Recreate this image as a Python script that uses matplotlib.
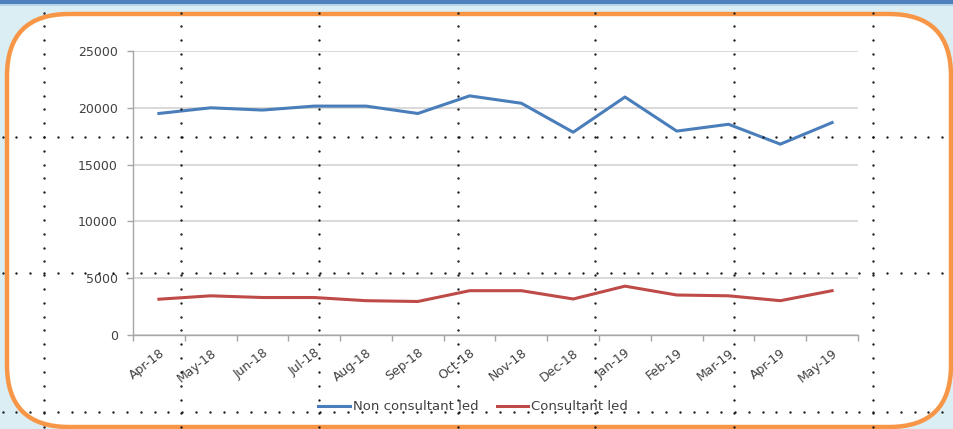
import numpy as np
import matplotlib.pyplot as plt
from matplotlib.patches import FancyBboxPatch, Rectangle

months = ["Apr-18", "May-18", "Jun-18", "Jul-18", "Aug-18", "Sep-18", "Oct-18",
          "Nov-18", "Dec-18", "Jan-19", "Feb-19", "Mar-19", "Apr-19", "May-19"]
non_consultant = [19500, 20000, 19800, 20150, 20150, 19500, 21050,
                  20400, 17850, 20950, 17950, 18550, 16800, 18700]
consultant = [3150, 3450, 3300, 3300, 3020, 2950, 3900,
              3900, 3170, 4300, 3520, 3450, 3020, 3900]
y_ticks = [0, 5000, 10000, 15000, 20000, 25000]

W, H = 954, 429
fig = plt.figure(figsize=(W / 100, H / 100), dpi=100)
fig.patch.set_facecolor("#dbeef4")

# slide background: top band + orange rounded frame
bg = fig.add_axes([0, 0, 1, 1], zorder=0)
bg.set_xlim(0, W)
bg.set_ylim(H, 0)
bg.axis("off")
bg.add_patch(Rectangle((0, 0), W, 4, color="#4f81bd", lw=0))
bg.add_patch(Rectangle((0, 4), W, 2, color="#b8d3e8", lw=0))
bg.add_patch(FancyBboxPatch((7, 14), 944, 413,
                            boxstyle="round,pad=0,rounding_size=62",
                            facecolor="white", edgecolor="#f79646", lw=3.2))

# chart
left, right, top, bottom = 133, 858, 51, 335
ax = fig.add_axes([left / W, 1 - bottom / H, (right - left) / W, (bottom - top) / H],
                  zorder=2)
ax.set_facecolor("none")
x = np.arange(len(months))
ax.plot(x, non_consultant, color="#4a7ebb", lw=2.2, label="Non consultant led")
ax.plot(x, consultant, color="#be4b48", lw=2.2, label="Consultant led")

ax.set_xlim(-0.5, len(months) - 0.5)
ax.set_ylim(0, 25000)
ax.set_yticks(y_ticks)
ax.set_yticklabels([str(v) for v in y_ticks])
ax.yaxis.grid(True, color="#d9d9d9", lw=1.4)
ax.set_axisbelow(True)

ax.set_xticks(x)
ax.set_xticklabels(months, rotation=38, ha="right", va="top",
                   rotation_mode="anchor")
ax.set_xticks(np.arange(-0.5, len(months)), minor=True)
ax.tick_params(axis="x", which="major", length=0, pad=8, labelsize=9,
               labelcolor="#404040")
ax.tick_params(axis="x", which="minor", length=4, color="#a6a6a6", width=1)
ax.tick_params(axis="y", length=4, color="#a6a6a6", width=1, pad=7,
               labelsize=9, labelcolor="#404040")
for s in ["top", "right"]:
    ax.spines[s].set_visible(False)
for s in ["left", "bottom"]:
    ax.spines[s].set_color("#a6a6a6")
    ax.spines[s].set_linewidth(1)

fig.legend(loc="center", bbox_to_anchor=(473 / W, 1 - 407 / H), ncol=2,
           frameon=False, fontsize=9.5, handlelength=2.4, columnspacing=1.4,
           handletextpad=0.2, labelcolor="#404040")

# dotted slide guides drawn over everything
ov = fig.add_axes([0, 0, 1, 1], zorder=10)
ov.set_xlim(0, W)
ov.set_ylim(H, 0)
ov.axis("off")
ov.set_facecolor("none")
step = 13.82
guide_x = [44, 181, 319, 458, 595, 734, 873]
guide_y = [137, 273, 412]
xs = np.arange(44 % step, W, step)
ys = np.arange(137 % step, H, step)
for gy in guide_y:
    ov.plot(xs, np.full_like(xs, gy), "o", ms=1.7, color="#1a1a1a", mew=0)
for gx in guide_x:
    ov.plot(np.full_like(ys, gx), ys, "o", ms=1.7, color="#1a1a1a", mew=0)

fig.savefig("out.png", dpi=100, facecolor=fig.get_facecolor())
